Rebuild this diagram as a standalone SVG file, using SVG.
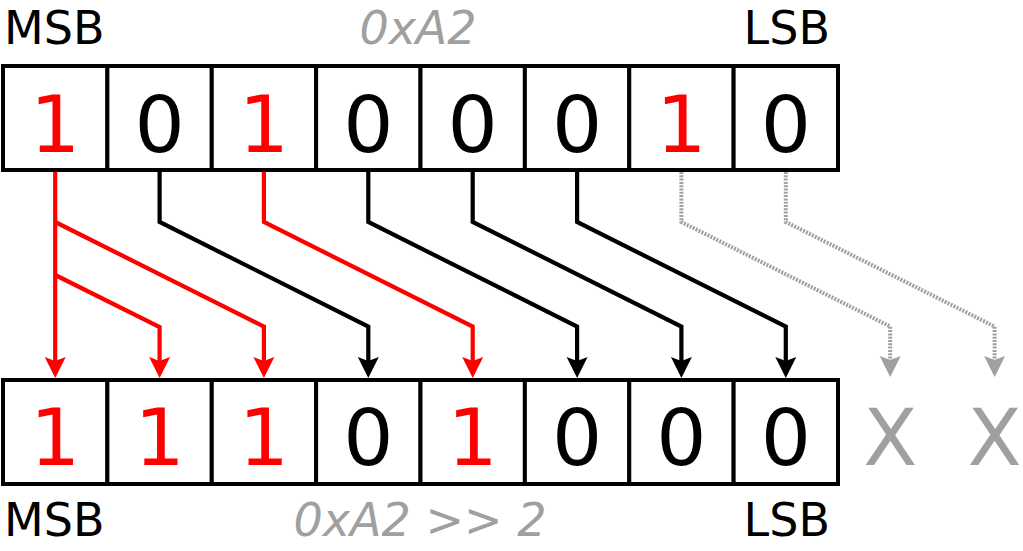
<svg xmlns="http://www.w3.org/2000/svg" width="1023" height="551" viewBox="0 0 1023 551">
<style>
  .cell { fill: #ffffff; stroke: #000000; stroke-width: 4; }
  .d { font-family: "DejaVu Sans", sans-serif; font-size: 79px; text-anchor: middle; }
  .one { fill: #ff0000; }
  .zero { fill: #000000; }
  .x { fill: #a0a0a0; }
  .lab { font-family: "DejaVu Sans", sans-serif; font-size: 46px; fill: #000000; }
  .hex { font-family: "DejaVu Sans", sans-serif; font-size: 46px; font-style: italic; fill: #a0a0a0; text-anchor: middle; }
  .c { fill: none; stroke-width: 4.2; }
  .cr { stroke: #ff0000; marker-end: url(#ar); }
  .cb { stroke: #000000; marker-end: url(#ab); }
  .cg { stroke: #a0a0a0; stroke-width: 4; stroke-dasharray: 2 1.3; marker-end: url(#ag); }
</style>
<defs>
  <marker id="ar" markerUnits="userSpaceOnUse" markerWidth="24" markerHeight="24" viewBox="0 -12 24 24" refX="6" refY="0" orient="auto" overflow="visible">
    <path d="M0,-10.5 L21,0 L0,10.5 L4,0 Z" fill="#ff0000"/>
  </marker>
  <marker id="ab" markerUnits="userSpaceOnUse" markerWidth="24" markerHeight="24" viewBox="0 -12 24 24" refX="6" refY="0" orient="auto" overflow="visible">
    <path d="M0,-10.5 L21,0 L0,10.5 L4,0 Z" fill="#000000"/>
  </marker>
  <marker id="ag" markerUnits="userSpaceOnUse" markerWidth="24" markerHeight="24" viewBox="0 -12 24 24" refX="6" refY="0" orient="auto" overflow="visible">
    <path d="M0,-10.5 L21,0 L0,10.5 L4,0 Z" fill="#a0a0a0"/>
  </marker>
</defs>
<rect width="1023" height="551" fill="#ffffff"/>

<g id="labels">
  <text class="lab" x="4" y="44">MSB</text>
  <text class="hex" x="418" y="44">0xA2</text>
  <text class="lab" x="830" y="44" text-anchor="end">LSB</text>
  <text class="lab" x="4" y="536">MSB</text>
  <text class="hex" x="420" y="536">0xA2 &gt;&gt; 2</text>
  <text class="lab" x="830" y="536" text-anchor="end">LSB</text>
</g>

<g id="connectors">
  <path class="c cr" d="M55.2,170 V363"/>
  <path class="c cr" d="M55.2,222 L263.9,326.5 V363"/>
  <path class="c cr" d="M55.2,275 L159.6,327 V363"/>
  <path class="c cb" d="M159.6,170 V222 L368.3,326.5 V363"/>
  <path class="c cr" d="M263.9,170 V222 L472.7,326.5 V363"/>
  <path class="c cb" d="M368.3,170 V222 L577.1,326.5 V363"/>
  <path class="c cb" d="M472.7,170 V222 L681.4,326.5 V363"/>
  <path class="c cb" d="M577.1,170 V222 L785.8,326.5 V363"/>
  <path class="c cg" d="M681.4,172 V222 L890.2,326.5 V362"/>
  <path class="c cg" d="M785.8,172 V222 L994.6,326.5 V362"/>
</g>

<g id="top-bit7"><rect class="cell" x="3" y="66" width="104.375" height="104"/><text class="d one" x="55.2" y="152">1</text></g>
<g id="top-bit6"><rect class="cell" x="107.375" y="66" width="104.375" height="104"/><text class="d zero" x="159.6" y="152">0</text></g>
<g id="top-bit5"><rect class="cell" x="211.75" y="66" width="104.375" height="104"/><text class="d one" x="263.9" y="152">1</text></g>
<g id="top-bit4"><rect class="cell" x="316.125" y="66" width="104.375" height="104"/><text class="d zero" x="368.3" y="152">0</text></g>
<g id="top-bit3"><rect class="cell" x="420.5" y="66" width="104.375" height="104"/><text class="d zero" x="472.7" y="152">0</text></g>
<g id="top-bit2"><rect class="cell" x="524.875" y="66" width="104.375" height="104"/><text class="d zero" x="577.1" y="152">0</text></g>
<g id="top-bit1"><rect class="cell" x="629.25" y="66" width="104.375" height="104"/><text class="d one" x="681.4" y="152">1</text></g>
<g id="top-bit0"><rect class="cell" x="733.625" y="66" width="104.375" height="104"/><text class="d zero" x="785.8" y="152">0</text></g>

<g id="bot-bit7"><rect class="cell" x="3" y="380" width="104.375" height="104"/><text class="d one" x="55.2" y="465">1</text></g>
<g id="bot-bit6"><rect class="cell" x="107.375" y="380" width="104.375" height="104"/><text class="d one" x="159.6" y="465">1</text></g>
<g id="bot-bit5"><rect class="cell" x="211.75" y="380" width="104.375" height="104"/><text class="d one" x="263.9" y="465">1</text></g>
<g id="bot-bit4"><rect class="cell" x="316.125" y="380" width="104.375" height="104"/><text class="d zero" x="368.3" y="465">0</text></g>
<g id="bot-bit3"><rect class="cell" x="420.5" y="380" width="104.375" height="104"/><text class="d one" x="472.7" y="465">1</text></g>
<g id="bot-bit2"><rect class="cell" x="524.875" y="380" width="104.375" height="104"/><text class="d zero" x="577.1" y="465">0</text></g>
<g id="bot-bit1"><rect class="cell" x="629.25" y="380" width="104.375" height="104"/><text class="d zero" x="681.4" y="465">0</text></g>
<g id="bot-bit0"><rect class="cell" x="733.625" y="380" width="104.375" height="104"/><text class="d zero" x="785.8" y="465">0</text></g>

<g id="dropped-1"><text class="d x" x="890.2" y="465">X</text></g>
<g id="dropped-0"><text class="d x" x="994.6" y="465">X</text></g>
</svg>
